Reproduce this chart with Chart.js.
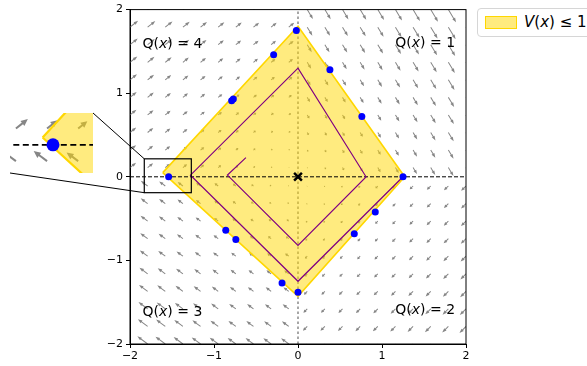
<!DOCTYPE html>
<html>
<head>
<meta charset="utf-8">
<script src="https://cdn.jsdelivr.net/npm/chart.js@4.4.1/dist/chart.umd.min.js"></script>
<style>
  body { margin: 0; width: 587px; height: 366px; overflow: hidden; background: #fff; position: relative; font-family: "DejaVu Sans", sans-serif; }
  #main { position: absolute; left: 0; top: 0; }
  #zoom { position: absolute; left: 10px; top: 113px; }
  #legend { position: absolute; left: 477px; top: 8px; width: 122px; height: 29px; border: 1px solid #d6d6d6; border-radius: 4px; background: #fff; box-sizing: border-box; }
  #legend .patch { position: absolute; left: 7px; top: 7px; width: 30px; height: 11px; background: rgba(255,215,0,0.5); border: 1px solid #FFD700; }
  #legend .label { position: absolute; left: 46px; top: 4px; font-size: 15px; color: #000; white-space: nowrap; }
</style>
</head>
<body>
<canvas id="main" width="587" height="366"></canvas>
<canvas id="zoom" width="83" height="60"></canvas>
<div id="legend"><div class="patch"></div><div class="label"><i>V</i>(<i>x</i>) ≤ 1</div></div>
<script>
// axis ticks
const xTicks = [-2, -1, 0, 1, 2];
const yTicks = [-2, -1, 0, 1, 2];

// level set V(x) <= 1 (polygon, closed)
const boundaryX = [-1.61, 0, 1.27, 0, -1.61];
const boundaryY = [0.05, 1.8, 0, -1.43, 0.05];

// sampled points on the level set
const sampleX = [-0.02, -0.29, 0.38, -0.77, -0.79, 0.76, 1.25, -1.54, -0.86, -0.74, 0.92, 0.67, -0.19, 0];
const sampleY = [1.75, 1.46, 1.28, 0.93, 0.91, 0.72, 0, 0, -0.64, -0.75, -0.42, -0.68, -1.27, -1.38];

// trajectory
const trajX = [1.25, 0, -1.28, 0, 0.81, 0, -0.84, -0.62];
const trajY = [0, -1.25, 0.02, 1.30, 0, -0.82, 0.02, 0.23];

// quiver grid
const gridX = [-2, -1.79, -1.58, -1.37, -1.16, -0.95, -0.74, -0.53, -0.32, -0.11, 0.11, 0.32, 0.53, 0.74, 0.95, 1.16, 1.37, 1.58, 1.79, 2];
const gridY = [-2, -1.79, -1.58, -1.37, -1.16, -0.95, -0.74, -0.53, -0.32, -0.11, 0.11, 0.32, 0.53, 0.74, 0.95, 1.16, 1.37, 1.58, 1.79, 2];

// field direction per quadrant Q1..Q4 and gain (data units per unit radius)
const fieldDirX = [0.6, -1, -1, 1];
const fieldDirY = [-1, -1, 0.75, 0.8];
const fieldGain = [0.066, 0.041, 0.057, 0.046];

// mode labels
const modeNames = ["1", "2", "3", "4"];
const modeX = [1.87, 1.87, -1.85, -1.85];
const modeY = [1.6, -1.6, -1.62, 1.58];

const pts = (xs, ys) => xs.map((x, i) => ({ x: x, y: ys[i] }));

Chart.defaults.font.family = '"DejaVu Sans", sans-serif';
Chart.defaults.font.size = 11;
Chart.defaults.color = "#000";

function quiverPlugin(scale, shaft, headLen, headHalf) {
  return {
    id: "quiver",
    beforeDatasetsDraw(chart) {
      const { ctx, chartArea: a } = chart;
      const xs = chart.scales.x, ys = chart.scales.y;
      ctx.save();
      ctx.beginPath();
      ctx.rect(a.left, a.top, a.right - a.left, a.bottom - a.top);
      ctx.clip();
      ctx.fillStyle = "#868686";
      gridX.forEach((gx) => {
        gridY.forEach((gy) => {
          let q = gx > 0 ? (gy > 0 ? 0 : 1) : (gy > 0 ? 3 : 2);
          const n = Math.hypot(fieldDirX[q], fieldDirY[q]);
          const m = fieldGain[q] * Math.hypot(gx, gy) * scale;
          const x0 = xs.getPixelForValue(gx), y0 = ys.getPixelForValue(gy);
          const x1 = xs.getPixelForValue(gx + fieldDirX[q] / n * m);
          const y1 = ys.getPixelForValue(gy + fieldDirY[q] / n * m);
          const L = Math.hypot(x1 - x0, y1 - y0);
          if (L < 0.3) return;
          const ux = (x1 - x0) / L, uy = (y1 - y0) / L;
          const vx = -uy, vy = ux;
          const hl = Math.min(headLen, L * 0.55);
          const hw = headHalf * Math.min(1, L / headLen + 0.3);
          const bx = x1 - ux * hl, by = y1 - uy * hl;
          const sw = shaft / 2;
          ctx.beginPath();
          ctx.moveTo(x0 + vx * sw, y0 + vy * sw);
          ctx.lineTo(bx + vx * sw, by + vy * sw);
          ctx.lineTo(bx + vx * hw, by + vy * hw);
          ctx.lineTo(x1, y1);
          ctx.lineTo(bx - vx * hw, by - vy * hw);
          ctx.lineTo(bx - vx * sw, by - vy * sw);
          ctx.lineTo(x0 - vx * sw, y0 - vy * sw);
          ctx.closePath();
          ctx.fill();
        });
      });
      ctx.restore();
    }
  };
}

const regionDataset = (bw) => ({
  data: pts(boundaryX, boundaryY),
  borderColor: "#FFD700",
  backgroundColor: "rgba(255,215,0,0.5)",
  borderWidth: bw,
  fill: "shape",
  pointRadius: 0,
  tension: 0,
  order: 4
});

const axisLine = (dash, width) => ({
  data: [{ x: -2, y: 0 }, { x: 2, y: 0 }],
  borderColor: "#000",
  borderWidth: width,
  borderDash: dash,
  pointRadius: 0,
  fill: false,
  order: 3
});

// zoomed view limits
const zoomLim = { xmin: -1.83, xmax: -1.27, ymin: -0.19, ymax: 0.215 };

const framePlugin = {
  id: "frame",
  afterDatasetsDraw(chart) {
    const { ctx, chartArea: a } = chart;
    const xs = chart.scales.x, ys = chart.scales.y;
    ctx.save();
    ctx.strokeStyle = "#000";
    ctx.lineWidth = 1;
    ctx.strokeRect(a.left, a.top, a.right - a.left, a.bottom - a.top);

    // mode labels
    ctx.fillStyle = "#000";
    ctx.textBaseline = "middle";
    ctx.textAlign = "left";
    modeNames.forEach((name, i) => {
      const parts = [["Q", "normal"], ["(", "normal"], ["x", "italic"], [") = " + name, "normal"]];
      const w = parts.map((p) => { ctx.font = p[1] + ' 14px "DejaVu Sans"'; return ctx.measureText(p[0]).width; });
      const total = w.reduce((s, v) => s + v, 0);
      let cx = xs.getPixelForValue(modeX[i]);
      if (modeX[i] > 0) cx -= total;
      const cy = ys.getPixelForValue(modeY[i]);
      parts.forEach((p, k) => { ctx.font = p[1] + ' 14px "DejaVu Sans"'; ctx.fillText(p[0], cx, cy); cx += w[k]; });
    });

    // zoom box and connectors
    const rx0 = xs.getPixelForValue(zoomLim.xmin), rx1 = xs.getPixelForValue(zoomLim.xmax);
    const ry0 = ys.getPixelForValue(zoomLim.ymax), ry1 = ys.getPixelForValue(zoomLim.ymin);
    ctx.lineWidth = 1.2;
    ctx.strokeRect(rx0, ry0, rx1 - rx0, ry1 - ry0);
    const inset = document.getElementById("zoom");
    const il = inset.offsetLeft, it = inset.offsetTop;
    ctx.lineWidth = 1;
    ctx.beginPath();
    ctx.moveTo(rx0, ry0);
    ctx.lineTo(il + inset.width, it);
    ctx.moveTo(rx0, ry1);
    ctx.lineTo(il, it + inset.height);
    ctx.stroke();
    ctx.restore();
  }
};

const tickFmt = (v) => String(v).replace("-", "\u2212");

new Chart(document.getElementById("main"), {
  type: "line",
  data: {
    datasets: [
      {
        data: pts([0], [0]),
        pointStyle: "crossRot",
        pointRadius: 5.5,
        borderColor: "#000",
        pointBorderWidth: 2.5,
        showLine: false,
        order: 0
      },
      {
        data: pts(sampleX, sampleY),
        pointRadius: 3.5,
        pointBackgroundColor: "#0000FF",
        pointBorderWidth: 0,
        showLine: false,
        order: 1
      },
      {
        data: pts(trajX, trajY),
        borderColor: "#800080",
        borderWidth: 1.2,
        pointRadius: 0,
        fill: false,
        order: 2
      },
      axisLine([4, 2], 1),
      regionDataset(1.6),
      {
        data: [{ x: 0, y: -2 }, { x: 0, y: 2 }],
        borderColor: "#888",
        borderWidth: 1.5,
        borderDash: [2.5, 2.5],
        pointRadius: 0,
        fill: false,
        order: 5
      }
    ]
  },
  options: {
    responsive: false,
    animation: false,
    events: [],
    layout: { autoPadding: false, padding: { left: 0, right: 121, top: 7.5, bottom: 0 } },
    plugins: { legend: { display: false }, tooltip: { enabled: false } },
    scales: {
      x: {
        type: "linear", min: -2, max: 2,
        afterBuildTicks: (s) => { s.ticks = xTicks.map((v) => ({ value: v })); },
        afterFit: (s) => { s.height = 22; },
        ticks: { callback: tickFmt, padding: 2, maxRotation: 0 },
        grid: { drawOnChartArea: false, tickLength: 4, color: "#000" },
        border: { color: "#000" }
      },
      y: {
        type: "linear", min: -2, max: 2,
        afterBuildTicks: (s) => { s.ticks = yTicks.map((v) => ({ value: v })); },
        afterFit: (s) => { s.width = 130; },
        ticks: { callback: tickFmt, padding: 3 },
        grid: { drawOnChartArea: false, tickLength: 4, color: "#000" },
        border: { color: "#000" }
      }
    }
  },
  plugins: [quiverPlugin(1, 1.0, 4.5, 1.6), framePlugin]
});

new Chart(document.getElementById("zoom"), {
  type: "line",
  data: {
    datasets: [
      {
        data: pts([sampleX[7]], [sampleY[7]]),
        pointRadius: 6.5,
        pointBackgroundColor: "#0000FF",
        pointBorderWidth: 0,
        showLine: false,
        order: 1
      },
      axisLine([6, 3.5], 1.6),
      regionDataset(2.2)
    ]
  },
  options: {
    responsive: false,
    animation: false,
    events: [],
    layout: { autoPadding: false, padding: 0 },
    plugins: { legend: { display: false }, tooltip: { enabled: false } },
    scales: {
      x: { type: "linear", display: false, min: zoomLim.xmin, max: zoomLim.xmax },
      y: { type: "linear", display: false, min: zoomLim.ymin, max: zoomLim.ymax }
    }
  },
  plugins: [quiverPlugin(1.25, 2.0, 7, 3.2)]
});
</script>
</body>
</html>
